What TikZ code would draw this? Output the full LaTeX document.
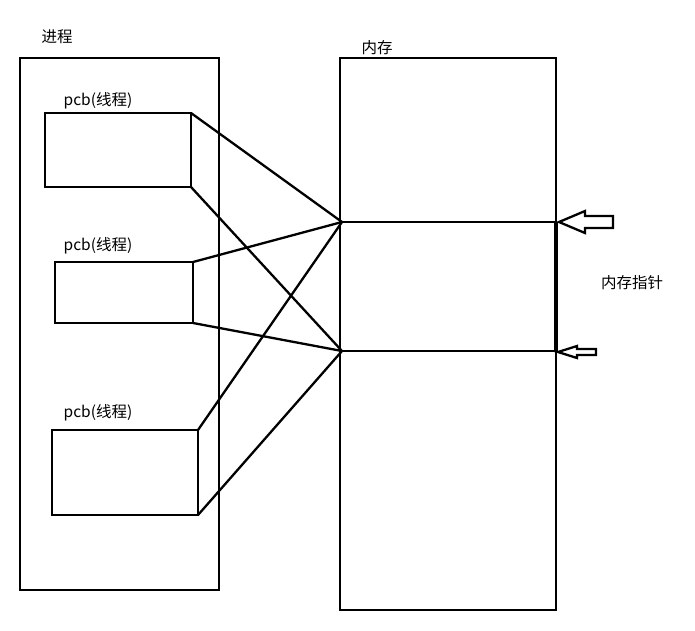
\documentclass[tikz,border=0pt]{standalone}
\usepackage{fontspec}
\setmainfont{Noto Sans CJK SC}
\begin{document}
\begin{tikzpicture}[x=1pt,y=-1pt,
  line/.style={line width=2.3pt,black},
  lbl/.style={font=\fontsize{15.5}{18}\selectfont,inner sep=0pt},
  blockarrow/.style={line width=2.3pt,black,fill=white,line join=miter}]
\useasboundingbox (0,0) rectangle (695,630);
% process
\node[lbl] (tproc) at (57,37) {进程};
\draw[line] (20,58) rectangle (219,590);
% pcb boxes
\draw[line] (45,113) rectangle (191,187);
\coordinate (p1tr) at (191,113); \coordinate (p1br) at (191,187);
\node[lbl] (t1) at (98,101) {pcb(线程)};
\draw[line] (55,262) rectangle (193,323);
\coordinate (p2tr) at (193,262); \coordinate (p2br) at (193,323);
\node[lbl] (t2) at (98,246) {pcb(线程)};
\draw[line] (52,430) rectangle (198,515);
\coordinate (p3tr) at (198,430); \coordinate (p3br) at (198,515);
\node[lbl] (t3) at (98,413) {pcb(线程)};
% memory
\node[lbl] (tmem) at (377,48) {内存};
\draw[line] (340,58) rectangle (556,610);
\coordinate (A) at (342,222); \coordinate (B) at (342,351);
\coordinate (Ar) at (556,222); \coordinate (Br) at (556,351);
\draw[line] (A) -- (Ar);
\draw[line] (B) -- (Br);
\draw[line width=4pt] (Ar) -- (Br);
% connectors
\draw[line] (p1tr) -- (A);
\draw[line] (p1br) -- (B);
\draw[line] (p2tr) -- (A);
\draw[line] (p2br) -- (B);
\draw[line] (p3tr) -- (A);
\draw[line] (p3br) -- (B);
% block arrows
\draw[blockarrow] (559,222) -- (585,211) -- (585,216) -- (613,216) -- (613,228) -- (585,228) -- (585,233) -- cycle;
\draw[blockarrow] (558,352) -- (577,346) -- (577,349) -- (596,349) -- (596,355) -- (577,355) -- (577,358) -- cycle;
\node[lbl] (tptr) at (632,283) {内存指针};
\end{tikzpicture}
\end{document}
